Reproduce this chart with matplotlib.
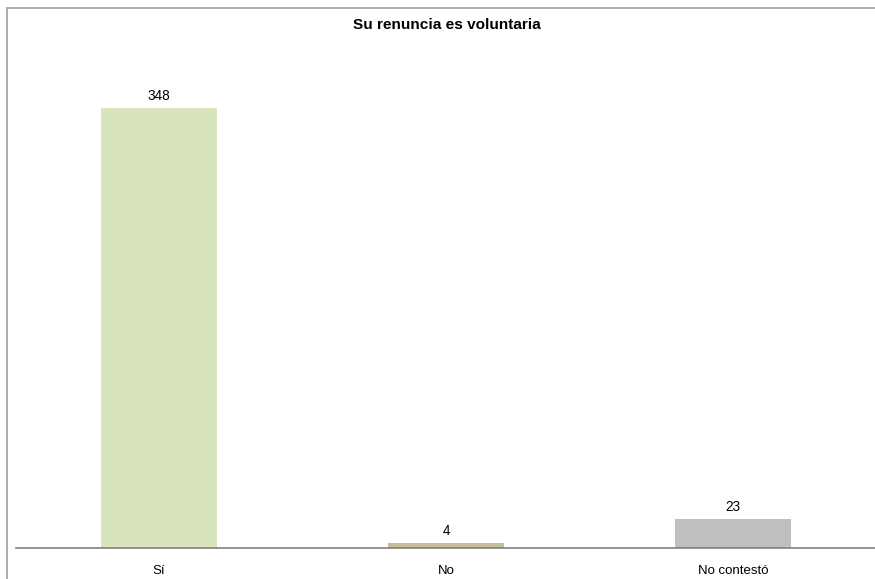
import matplotlib.pyplot as plt
from matplotlib.patches import Rectangle

categorias = ['Sí', 'No', 'No contestó']
valores = [348, 4, 23]
colores = ['#D8E4BC', '#C4BD97', '#BFBFBF']

plt.rcParams['font.family'] = ['Liberation Sans', 'DejaVu Sans']

fig = plt.figure(figsize=(8.75, 5.79), dpi=100)

# marco gris del grafico
fig.patches.append(Rectangle((7 / 875, -0.1), 1.2, 1 - 8 / 579 + 0.1,
                             transform=fig.transFigure, fill=False,
                             edgecolor='#A6A6A6', linewidth=1.3))

ax = fig.add_axes([15.5 / 875, 31 / 579, 861.5 / 875, 506 / 579])
x = range(len(categorias))
barras = ax.bar(x, valores, width=0.404, color=colores)
for b, v in zip(barras, valores):
    ax.annotate(str(v), (b.get_x() + b.get_width() / 2, v), xytext=(0, 3.5),
                textcoords='offset points', ha='center', va='bottom', fontsize=9.8)

ax.set_xlim(-0.5, 2.5)
ax.set_ylim(0, 400)
ax.set_xticks(list(x))
ax.set_xticklabels(categorias, fontsize=9.5)
ax.tick_params(axis='x', length=0, pad=12)
ax.set_yticks([])
for s in ['top', 'right', 'left']:
    ax.spines[s].set_visible(False)
ax.spines['bottom'].set_color('#808080')
ax.spines['bottom'].set_linewidth(1.2)
ax.patch.set_alpha(0)

fig.text(446.5 / 875, 1 - 25 / 579, 'Su renuncia es voluntaria', ha='center', va='center',
         fontsize=11.1, fontweight='bold')

fig.savefig('out.png', dpi=100)
